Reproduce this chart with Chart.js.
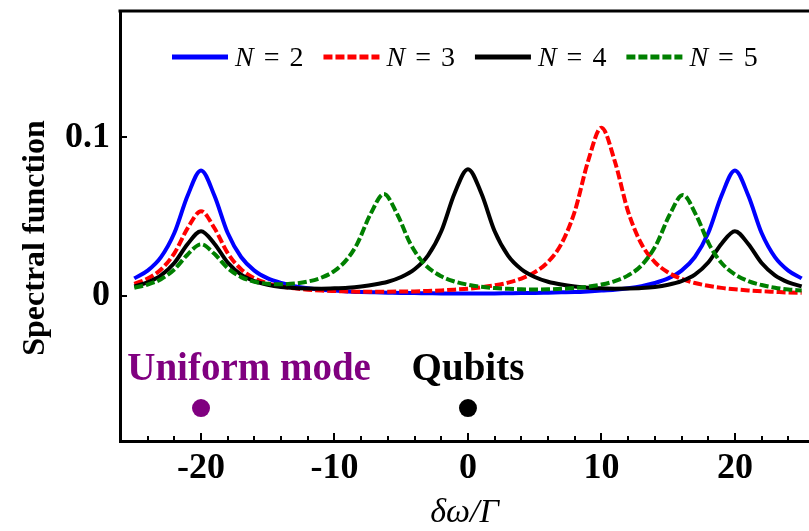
<!DOCTYPE html>
<html>
<head>
<meta charset="utf-8">
<script src="https://cdn.jsdelivr.net/npm/chart.js@4.4.1/dist/chart.umd.min.js"></script>
<style>
html, body { margin: 0; padding: 0; background: #fff; }
</style>
</head>
<body>
<canvas id="chart" width="809" height="531"></canvas>
<script>
// 頻率軸 (δω/Γ)
var xs = [-25, -24, -23, -22, -21, -20, -19, -18, -17, -16, -15, -14, -13, -12, -11, -10, -9, -8, -7, -6, -5, -4, -3, -2, -1, 0,
	1, 2, 3, 4, 5, 6, 7, 8, 9, 10, 11, 12, 13, 14, 15, 16, 17, 18, 19, 20, 21, 22, 23, 24, 25];

// N = 2
var specN2 = [0.0111, 0.0160, 0.0245, 0.0397, 0.0634, 0.0792, 0.0634, 0.0397, 0.0246, 0.0160, 0.0111, 0.0082, 0.0062, 0.0049, 0.0040, 0.0034, 0.0029, 0.0025, 0.0023, 0.0021, 0.0019, 0.0018, 0.0017, 0.0016, 0.0016, 0.0016,
	0.0016, 0.0016, 0.0017, 0.0018, 0.0019, 0.0021, 0.0023, 0.0025, 0.0029, 0.0034, 0.0040, 0.0049, 0.0062, 0.0082, 0.0111, 0.0160, 0.0246, 0.0397, 0.0634, 0.0792, 0.0634, 0.0397, 0.0245, 0.0160, 0.0111];

// N = 3
var specN3 = [0.0077, 0.0110, 0.0167, 0.0269, 0.0428, 0.0535, 0.0429, 0.0270, 0.0169, 0.0112, 0.0080, 0.0060, 0.0048, 0.0040, 0.0034, 0.0031, 0.0029, 0.0027, 0.0027, 0.0027, 0.0028, 0.0029, 0.0032, 0.0035, 0.0040, 0.0046,
	0.0055, 0.0067, 0.0084, 0.0110, 0.0150, 0.0215, 0.0329, 0.0533, 0.0851, 0.1062, 0.0850, 0.0532, 0.0328, 0.0214, 0.0148, 0.0108, 0.0082, 0.0064, 0.0051, 0.0042, 0.0035, 0.0030, 0.0026, 0.0022, 0.0020];

// N = 4
var specN4 = [0.0061, 0.0086, 0.0130, 0.0208, 0.0328, 0.0409, 0.0330, 0.0211, 0.0135, 0.0094, 0.0071, 0.0057, 0.0050, 0.0047, 0.0046, 0.0048, 0.0052, 0.0060, 0.0072, 0.0090, 0.0120, 0.0169, 0.0255, 0.0408, 0.0648, 0.0800,
	0.0648, 0.0408, 0.0255, 0.0169, 0.0120, 0.0090, 0.0072, 0.0060, 0.0052, 0.0048, 0.0046, 0.0047, 0.0050, 0.0057, 0.0071, 0.0094, 0.0135, 0.0211, 0.0330, 0.0409, 0.0328, 0.0208, 0.0130, 0.0086, 0.0061];

// N = 5 (峰值不在整數點上，另給一組頻率點)
var xsN5 = [-25, -24, -23, -22, -21, -20, -19, -18, -17, -16, -15, -14, -13, -12, -11, -10, -9, -8.3, -7.3, -6.3, -5.3, -4.3, -3.3,
	-2, -1, 0, 1, 2, 3, 4, 5, 6, 7, 8, 9, 10, 11, 12, 13, 14.1, 15.1, 16.1, 17.1, 18.1, 19, 20, 21, 22, 23, 24, 25];
var specN5 = [0.0052, 0.0072, 0.0106, 0.0167, 0.0262, 0.0326, 0.0266, 0.0176, 0.0119, 0.0090, 0.0077, 0.0074, 0.0078, 0.0091, 0.0115, 0.0158, 0.0238, 0.0329, 0.0517, 0.0643, 0.0516, 0.0327, 0.0205,
	0.0124, 0.0091, 0.0071, 0.0058, 0.0050, 0.0045, 0.0042, 0.0041, 0.0042, 0.0045, 0.0050, 0.0059, 0.0072, 0.0094, 0.0130, 0.0193, 0.0323, 0.0511, 0.0637, 0.0509, 0.0321, 0.0208, 0.0136, 0.0094, 0.0069, 0.0052, 0.0041, 0.0034];

var seriesNames = ['N = 2', 'N = 3', 'N = 4', 'N = 5'];

// 標記點：均勻模態與量子位元的頻率
var markX = [-20, 0];
var markY = [-0.0707, -0.0707];
var markText = ['Uniform mode', 'Qubits'];
var markTextX = [-16.4, 0];
var markTextY = [-0.053, -0.053];

// 座標刻度
var xTicks = [-20, -10, 0, 10, 20];
var xMinorTicks = [-24, -22, -18, -16, -14, -12, -8, -6, -4, -2, 2, 4, 6, 8, 12, 14, 16, 18, 22, 24];
var yTicks = [0, 0.1];
var yTickLabels = ['0', '0.1'];

var SERIF = '"Liberation Serif", "Times New Roman", serif';

function toPoints(xArr, yArr){
	return xArr.map((x, i) => ({x: x, y: yArr[i]}));
}

function curve(label, xArr, yArr, color, dash, order){
	return {
		label: label,
		data: toPoints(xArr, yArr),
		borderColor: color,
		backgroundColor: color,
		borderWidth: 4,
		borderDash: dash,
		pointRadius: 0,
		cubicInterpolationMode: 'monotone',
		fill: false,
		order: order,
	};
}

// 外框上緣與向內的刻度線
var framePlugin = {
	id: 'frame',
	afterDraw(chart){
		var ctx = chart.ctx;
		var area = chart.chartArea;
		var xs_ = chart.scales.x;
		var ys_ = chart.scales.y;
		ctx.save();
		ctx.strokeStyle = '#000';
		ctx.lineWidth = 3;
		ctx.beginPath();
		ctx.moveTo(area.left - 1.5, area.top);
		ctx.lineTo(area.right, area.top);
		ctx.stroke();

		ctx.lineWidth = 2;
		xTicks.forEach(v => {
			var px = Math.round(xs_.getPixelForValue(v));
			ctx.beginPath();
			ctx.moveTo(px, area.bottom);
			ctx.lineTo(px, area.bottom - 8);
			ctx.stroke();
		});
		xMinorTicks.forEach(v => {
			var px = Math.round(xs_.getPixelForValue(v));
			ctx.beginPath();
			ctx.moveTo(px, area.bottom);
			ctx.lineTo(px, area.bottom - 5);
			ctx.stroke();
		});
		yTicks.forEach(v => {
			var py = Math.round(ys_.getPixelForValue(v));
			ctx.beginPath();
			ctx.moveTo(area.left, py);
			ctx.lineTo(area.left + 7, py);
			ctx.stroke();
		});
		ctx.restore();
	}
};

// 圖內圖例與文字標註
var notePlugin = {
	id: 'notes',
	afterDraw(chart){
		var ctx = chart.ctx;
		var area = chart.chartArea;
		var xs_ = chart.scales.x;
		var ys_ = chart.scales.y;
		ctx.save();

		// 圖例
		var lx = 172;
		var ly = area.top + 46;
		for(var i = 0; i < 4; i++){
			var ds = chart.data.datasets[i];
			ctx.strokeStyle = ds.borderColor;
			ctx.lineWidth = 5;
			ctx.setLineDash(ds.borderDash || []);
			ctx.beginPath();
			ctx.moveTo(lx, ly);
			ctx.lineTo(lx + 56, ly);
			ctx.stroke();
			ctx.setLineDash([]);
			var tx = lx + 63;
			var parts = ds.label.split(' ');
			ctx.fillStyle = '#000';
			ctx.textBaseline = 'alphabetic';
			ctx.textAlign = 'left';
			ctx.font = 'italic 28px ' + SERIF;
			ctx.fillText(parts[0], tx, ly + 9);
			tx += ctx.measureText(parts[0]).width + 10;
			ctx.font = '28px ' + SERIF;
			ctx.fillText(parts[1], tx, ly + 9);
			tx += ctx.measureText(parts[1]).width + 10;
			ctx.fillText(parts[2], tx, ly + 9);
			tx += ctx.measureText(parts[2]).width;
			lx = tx + 20;
		}

		// 標註文字
		ctx.textAlign = 'center';
		ctx.textBaseline = 'alphabetic';
		ctx.font = 'bold 39px ' + SERIF;
		markText.forEach((t, i) => {
			ctx.fillStyle = i === 0 ? '#800080' : '#000';
			ctx.fillText(t, xs_.getPixelForValue(markTextX[i]), ys_.getPixelForValue(markTextY[i]));
		});
		ctx.restore();
	}
};

var chart = new Chart(document.getElementById('chart'), {
	type: 'line',
	data: {
		datasets: [
			curve(seriesNames[0], xs, specN2, '#0000ff', [], 4),
			curve(seriesNames[1], xs, specN3, '#ff0000', [9, 3], 3),
			curve(seriesNames[2], xs, specN4, '#000000', [], 2),
			curve(seriesNames[3], xsN5, specN5, '#008000', [9, 3], 1),
			{
				type: 'scatter',
				label: 'marks',
				data: toPoints(markX, markY),
				pointRadius: 9,
				pointHoverRadius: 9,
				pointBorderWidth: 0,
				pointBackgroundColor: ['#800080', '#000000'],
				showLine: false,
				order: 0,
			}
		]
	},
	options: {
		responsive: false,
		animation: false,
		events: [],
		layout: {autoPadding: false, padding: {top: 11, right: 0, left: 0, bottom: 0}},
		plugins: {
			legend: {display: false},
			tooltip: {enabled: false},
		},
		scales: {
			x: {
				type: 'linear',
				min: -26.07,
				max: 25.55,
				afterBuildTicks: s => { s.ticks = xTicks.map(v => ({value: v})); },
				afterFit: s => { s.height = 90; s.paddingLeft = 0; s.paddingRight = 0; },
				grid: {display: true, drawOnChartArea: false, drawTicks: false},
				border: {display: true, color: '#000', width: 3},
				ticks: {
					color: '#000',
					padding: 6,
					maxRotation: 0,
					font: {family: SERIF, size: 36, weight: 'bold'},
					callback: v => String(v),
				},
				title: {
					display: true,
					text: 'δω/Γ',
					color: '#000',
					padding: {top: 0, bottom: -2},
					font: {family: SERIF, size: 34, style: 'italic'},
				},
			},
			y: {
				type: 'linear',
				min: -0.0915,
				max: 0.1798,
				afterBuildTicks: s => { s.ticks = yTicks.map(v => ({value: v})); },
				afterFit: s => { s.width = 120; s.paddingTop = 0; s.paddingBottom = 0; },
				grid: {display: true, drawOnChartArea: false, drawTicks: false},
				border: {display: true, color: '#000', width: 3},
				ticks: {
					color: '#000',
					padding: 10,
					font: {family: SERIF, size: 36, weight: 'bold'},
					callback: v => yTickLabels[yTicks.indexOf(v)],
				},
				title: {
					display: true,
					// 尾端空白讓標題稍微往下
					text: 'Spectral function   ',
					color: '#000',
					padding: {top: 17, bottom: 0},
					font: {family: SERIF, size: 32, weight: 'bold'},
				},
			},
		},
	},
	plugins: [framePlugin, notePlugin],
});
</script>
</body>
</html>
